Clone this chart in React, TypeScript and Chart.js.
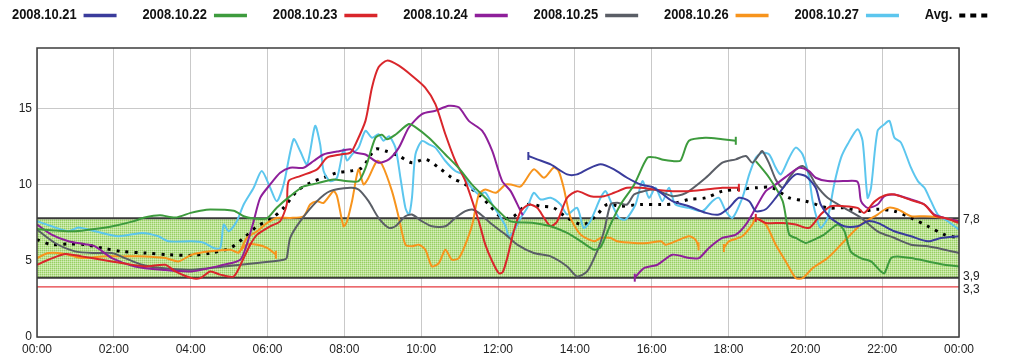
import { useEffect, useRef } from 'react';
import { Chart, registerables } from 'chart.js';

Chart.register(...registerables);

const SERIES_LABELS = ['2008.10.21', '2008.10.22', '2008.10.23', '2008.10.24', '2008.10.25', '2008.10.26', '2008.10.27'];
const AVG_LABEL = 'Avg.';
const SERIES_COLORS = ['#3a3c9c', '#3d9b3d', '#d9262b', '#8e1f9a', '#5a5e66', '#f7941d', '#5cc6ee'];

const X_TICK_STEP = 2;
const Y_TICKS = [0, 5, 10, 15];
const Y_MAX = 19;
const BAND_LOW = 3.9;
const BAND_HIGH = 7.8;
const LIMIT_LOW = 3.3;
const RIGHT_LABELS = ['7,8', '3,9', '3,3'];
const RIGHT_VALUES = [7.8, 3.9, 3.3];

// 2008.10.21
const H21 = [12.79, 13.02, 13.37, 13.8, 14.06, 14.32, 14.67, 15.02, 15.36, 15.71, 16.06, 16.54, 16.97, 17.41, 17.75, 18.01, 18.27, 18.54, 18.71, 18.97, 19.23, 19.49, 19.75, 20.01, 20.27, 20.4, 20.66, 21.01, 21.36, 21.62, 21.88, 22.32, 22.75, 23.19, 23.53, 24];
const V21 = [11.9, 11.68, 11.35, 10.69, 10.69, 11.02, 11.35, 11.02, 10.47, 10.03, 9.81, 8.93, 8.6, 8.16, 8.05, 8.49, 9.15, 8.93, 8.27, 8.4, 9.15, 10.03, 10.69, 10.58, 9.81, 8.71, 7.83, 7.28, 7.28, 7.61, 7.5, 6.95, 6.62, 6.29, 6.51, 6.62];
const T21 = [12.79];

// 2008.10.22
const H22 = [0, 0.5, 1.0, 1.5, 2.0, 2.5, 2.8, 3.2, 3.6, 4.0, 4.25, 4.51, 5.12, 5.38, 5.6, 5.98, 6.24, 6.59, 6.94, 7.29, 7.72, 8.03, 8.37, 8.55, 8.81, 8.98, 9.11, 9.33, 9.68, 9.85, 10.2, 10.63, 10.98, 11.33, 11.67, 12.02, 12.33, 12.93, 13.37, 13.8, 14.15, 14.5, 14.67, 14.93, 15.19, 15.54, 15.89, 16.1, 16.3, 16.54, 16.75, 16.97, 17.41, 17.84, 18.19, 18.45, 18.71, 19.06, 19.41, 19.58, 19.75, 20.01, 20.14, 20.49, 20.84, 21.01, 21.18, 21.44, 21.71, 21.97, 22.06, 22.23, 22.4, 22.75, 23.19, 23.62, 24];
const V22 = [7.1, 7.0, 6.95, 7.1, 7.3, 7.6, 7.85, 8.0, 7.85, 8.16, 8.3, 8.38, 8.3, 7.94, 7.8, 7.8, 8.5, 9.26, 9.9, 10.1, 10.36, 10.25, 10.25, 11.1, 13.1, 13.3, 13.0, 13.3, 14.0, 13.8, 13.1, 12.0, 11.1, 10.0, 9.15, 8.27, 7.6, 7.5, 7.28, 6.84, 6.3, 5.74, 5.9, 7.4, 8.71, 10.0, 11.79, 11.8, 11.65, 11.57, 11.6, 12.9, 13.1, 13.0, 12.9, null, 11.57, 10.47, 8.93, 6.73, 6.51, 6.18, 6.3, 6.73, 7.4, 7.0, 5.63, 5.19, 4.97, 4.3, 4.2, 5.19, 5.3, 5.19, 4.97, 4.75, 4.64];
const T22 = [18.19];

// 2008.10.23
const H23 = [0, 0.3, 0.73, 1.16, 1.69, 2.2, 2.82, 3.34, 3.6, 4.03, 4.25, 4.51, 4.77, 5.12, 5.38, 5.55, 5.73, 6.07, 6.33, 6.5, 6.55, 6.85, 7.29, 7.55, 7.9, 8.16, 8.29, 8.55, 8.72, 8.89, 9.11, 9.42, 9.76, 10.1, 10.37, 10.63, 10.89, 11.15, 11.5, 11.67, 11.85, 12.02, 12.12, 12.24, 12.41, 12.59, 12.81, 13.02, 13.2, 13.37, 13.54, 13.8, 14.06, 14.41, 14.76, 15.02, 15.36, 15.71, 16.06, 16.54, 16.97, 17.41, 17.84, 18.27, 18.5, 18.71, 18.97, 19.41, 19.75, 20.1, 20.4, 20.66, 21.01, 21.36, 21.53, 21.8, 22.06, 22.32, 22.75, 23.1, 23.36, 23.62, 24];
const V23 = [4.75, 5.08, 5.46, 5.3, 5.08, 4.86, 4.64, 4.75, 4.31, 3.87, 3.87, 4.31, 4.1, 3.98, 5.19, 6.07, 6.73, 7.28, 7.61, 8.71, 10.25, 10.58, 11.02, 11.79, 12.0, 12.12, 12.67, 14.21, 16.41, 17.73, 18.17, 17.84, 17.18, 16.41, 15.31, 13.33, 11.57, 10.25, 7.61, 6.07, 4.97, 4.2, 4.25, 5.19, 6.95, 8.27, 8.71, 8.49, 7.83, 7.28, 7.6, 9.15, 9.59, 9.26, 9.26, 9.48, 9.81, 9.81, 9.7, 9.59, 9.59, 9.7, 9.81, 9.81, null, 7.83, 7.5, 7.5, 7.39, 7.17, 8.05, 8.6, 8.6, 8.49, 8.16, 8.9, 9.3, 9.37, 9.0, 8.7, 8.0, 7.83, 7.5];
const T23 = [18.27, 18.71];

// 2008.10.24
const H24 = [0, 0.38, 0.82, 1.25, 1.51, 1.95, 2.55, 3.25, 4.03, 4.86, 5.29, 5.46, 5.64, 5.81, 6.07, 6.33, 6.59, 6.94, 7.2, 7.46, 7.81, 8.16, 8.29, 8.55, 8.89, 9.16, 9.42, 9.68, 10.02, 10.37, 10.72, 10.98, 11.24, 11.59, 11.85, 12.11, 12.33, 12.59, 12.65, 14.0, 15.56, 15.8, 16.15, 16.54, 16.97, 17.23, 17.49, 17.84, 18.19, 18.45, 18.71, 18.97, 19.23, 19.58, 19.84, 20.1, 20.27, 20.58, 21.01, 21.36, 21.45, 21.62, 21.88, 22.06, 22.32, 22.75, 23.1, 23.36, 23.62, 24];
const V24 = [7.39, 6.73, 6.29, 6.1, 5.96, 5.19, 4.64, 4.42, 4.31, 4.75, 5.08, 6.07, 7.61, 9.15, 10.03, 10.8, 11.13, 11.13, 11.57, 12.0, 12.19, 12.34, 12.12, 12.0, 11.46, 11.68, 12.45, 13.77, 14.65, 14.87, 15.2, 15.1, 14.21, 13.55, 12.23, 10.25, 9.59, 8.27, 8.0, null, 3.9, 4.53, 4.75, 5.41, 5.19, 5.19, 5.85, 6.51, 6.73, 7.39, 8.49, 9.59, 10.03, 10.69, 11.13, 10.9, 10.47, 10.25, 10.25, 10.2, 8.93, 8.49, 8.71, 9.26, 9.37, 9.04, 8.71, 8.05, 7.83, 7.61];
const T24 = [15.56];

// 2008.10.25
const H25 = [0, 0.47, 0.99, 1.51, 1.95, 2.29, 2.73, 3.25, 4.03, 4.86, 5.73, 6.42, 6.5, 6.59, 6.85, 7.29, 7.63, 8.16, 8.37, 8.63, 8.89, 9.16, 9.33, 9.59, 9.76, 10.02, 10.28, 10.63, 10.89, 11.15, 11.33, 11.5, 11.85, 12.2, 12.5, 12.93, 13.37, 13.8, 14.06, 14.32, 14.58, 14.76, 14.93, 15.1, 15.36, 15.54, 15.8, 16.06, 16.54, 16.8, 16.97, 17.41, 17.84, 18.19, 18.45, 18.62, 18.8, 18.88, 19.06, 19.23, 19.41, 19.58, 19.75, 19.93, 20.1, 20.27, 20.58, 21.01, 21.45, 21.88, 22.32, 22.75, 23.19, 23.62, 24];
const V25 = [7.06, 6.18, 5.63, 5.52, 5.52, 5.19, 4.75, 4.53, 4.42, 4.64, 4.86, 5.08, 5.19, 6.51, 7.6, 8.93, 9.59, 9.81, 9.7, 8.93, 7.83, 7.17, 7.28, 7.94, 8.05, 7.61, 7.28, 7.28, 7.83, 8.27, 8.38, 8.16, 7.39, 6.73, 6.07, 5.52, 5.3, 4.64, 3.98, 4.31, 5.63, 6.95, 8.71, 8.82, 8.71, 9.37, 9.59, 9.7, 9.26, 9.37, 9.59, 10.47, 11.46, 11.68, 11.9, 11.46, 12.0, 12.23, 11.4, 10.36, 9.81, 10.47, 11.0, 11.24, 10.8, 10.03, 9.15, 8.49, 7.83, 6.95, 6.51, 6.07, 5.96, 5.74, 5.52];

// 2008.10.26 (main run)
const H26 = [0, 0.3, 0.73, 1.16, 1.69, 2.2, 2.82, 3.34, 3.68, 4.03, 4.51, 5.03, 5.25, 5.46, 5.73, 5.99, 6.24, 6.59, 6.94, 7.11, 7.29, 7.46, 7.72, 7.81, 7.98, 8.07, 8.2, 8.37, 8.5, 8.63, 8.85, 8.98, 9.24, 9.42, 9.59, 9.76, 9.94, 10.11, 10.28, 10.46, 10.63, 10.8, 10.98, 11.15, 11.33, 11.5, 11.67, 11.94, 12.2, 12.33, 12.59, 12.93, 13.2, 13.45, 13.58, 13.71, 13.89, 14.15, 14.5, 14.67, 14.93, 15.1, 15.54, 15.89, 16.24, 16.36, 16.62, 16.97, 17.14, 17.22, 17.5, 17.88, 18.01, 18.36, 18.62, 18.71, 18.97, 19.23, 19.49, 19.75, 19.93, 20.19, 20.58, 21.01, 21.45, 21.88, 22.15, 22.4, 22.75, 23.1, 23.62, 24];
const V26 = [5.19, 5.52, 5.46, 5.19, 5.3, 5.3, 5.3, 5.19, 4.97, 5.41, 5.63, 5.74, 5.55, 6.51, 6.95, 7.5, 7.83, 7.83, 7.94, 8.71, 8.93, 8.82, 9.59, 9.26, 7.28, 7.61, 8.93, 11.02, 10.03, 10.47, 11.57, 11.35, 9.59, 7.83, 6.07, 5.96, 6.07, 5.74, 4.64, 4.86, 5.74, 5.08, 5.19, 6.07, 7.39, 9.37, 9.7, 9.48, 10.03, 10.03, 9.9, 11.02, 10.47, 11.13, 10.9, 9.81, 7.83, 6.73, 6.29, 6.51, 6.51, 6.29, 6.18, 6.18, 6.29, 6.07, 6.29, 6.62, 6.4, 5.96, null, 5.85, 6.29, 6.62, 7.39, 7.83, 7.4, 6.07, 4.97, 3.87, 3.87, 4.53, 5.19, 6.29, 7.39, 8.05, 8.49, 8.4, 7.94, 7.94, 7.83, 7.61];
const T26 = [17.22, 17.88];
// 2008.10.26 (repeated hour run)
const H26B = [5.25, 5.46, 5.73, 6.0, 6.22];
const V26B = [5.55, 6.07, 6.07, 5.85, 5.41];
const T26B = [6.22];

// 2008.10.27
const H27 = [0, 0.38, 0.82, 1.08, 1.51, 2.12, 2.73, 3.16, 3.42, 4.03, 4.34, 4.6, 4.77, 4.86, 4.99, 5.2, 5.38, 5.64, 5.85, 6.07, 6.24, 6.42, 6.68, 6.85, 7.03, 7.24, 7.37, 7.46, 7.63, 7.81, 7.98, 8.07, 8.2, 8.37, 8.55, 8.72, 8.89, 9.02, 9.16, 9.33, 9.46, 9.59, 9.68, 9.76, 9.85, 10.02, 10.2, 10.37, 10.63, 10.89, 11.07, 11.24, 11.5, 11.67, 11.85, 12.02, 12.2, 12.28, 12.41, 12.59, 12.76, 12.93, 13.11, 13.37, 13.63, 13.8, 14.06, 14.23, 14.4, 14.67, 14.8, 14.97, 15.15, 15.32, 15.58, 15.76, 15.93, 16.1, 16.28, 16.45, 16.62, 16.97, 17.32, 17.58, 17.75, 17.93, 18.1, 18.36, 18.54, 18.71, 18.88, 19.06, 19.23, 19.36, 19.58, 19.75, 19.93, 20.1, 20.19, 20.32, 20.4, 20.58, 20.75, 20.93, 21.1, 21.36, 21.49, 21.62, 21.71, 21.88, 22.06, 22.19, 22.32, 22.49, 22.75, 22.93, 23.1, 23.27, 23.45, 23.71, 24];
const V27 = [7.61, 7.28, 6.95, 7.2, 6.95, 6.62, 6.84, 6.62, 6.29, 6.29, 6.2, 5.85, 5.85, 7.39, 6.95, 7.61, 8.71, 9.81, 10.91, 9.81, 8.93, 10.03, 13.0, 12.23, 11.35, 13.88, 12.67, 10.91, 10.25, 10.47, 12.34, 11.6, 12.0, 12.45, 13.55, 13.1, 13.33, 12.9, 13.2, 12.45, 10.47, 8.49, 8.05, 9.15, 12.0, 12.89, 12.67, 12.45, 11.57, 10.91, 10.7, 10.03, 9.37, 9.5, 8.71, 8.05, 7.28, 6.62, 6.95, 7.83, 8.49, 9.48, 9.04, 9.15, 8.71, 8.05, 8.49, 7.17, 7.6, 9.15, 9.59, 8.71, 7.83, 7.72, 8.71, 10.25, 9.15, 9.81, 8.93, 9.81, 8.71, 8.49, 8.27, 8.93, 9.15, 8.27, 7.83, 9.15, 10.69, 11.79, 12.12, 12.0, 11.13, 10.69, 11.79, 12.45, 12.0, 10.47, 8.93, 7.61, 7.17, 7.83, 10.03, 11.79, 12.67, 13.66, 12.89, 9.15, 9.81, 13.55, 13.99, 14.21, 13.1, 12.78, 11.13, 10.25, 9.81, 8.93, 8.05, 7.61, 7.06];

// Avg.
const HAVG = [0, 0.38, 0.82, 1.25, 1.69, 2.2, 2.82, 3.42, 4.03, 4.51, 5.03, 5.38, 5.73, 6.07, 6.42, 6.77, 7.11, 7.46, 7.81, 8.16, 8.46, 8.81, 9.07, 9.42, 9.76, 10.11, 10.46, 10.8, 11.15, 11.5, 11.76, 12.11, 12.41, 12.76, 13.11, 13.45, 13.8, 14.23, 14.58, 14.84, 15.19, 15.71, 16.24, 16.54, 16.97, 17.41, 17.84, 18.27, 18.71, 19.14, 19.58, 20.01, 20.58, 21.01, 21.45, 21.88, 22.32, 22.75, 23.19, 23.62, 24];
const VAVG = [6.4, 6.07, 6.12, 6.07, 5.85, 5.63, 5.52, 5.41, 5.37, 5.52, 5.85, 6.51, 7.28, 7.72, 8.49, 9.59, 10.14, 10.47, 10.8, 10.91, 11.13, 12.34, 12.23, 11.9, 11.46, 11.68, 11.13, 10.47, 10.03, 9.37, 8.71, 7.83, 7.94, 8.71, 8.6, 8.49, 7.83, 7.39, 8.05, 8.71, 8.6, 8.71, 8.71, 8.75, 9.04, 9.15, 9.59, 9.7, 9.81, 9.81, 9.15, 8.93, 8.49, 8.49, 8.27, 8.4, 8.27, 7.83, 7.28, 6.73, 6.51];

const FONT = '"Liberation Sans", Arial, sans-serif';

function points(h: number[], v: (number | null)[]) {
  return h.map((x, i) => ({ x, y: v[i] }));
}

function lineSet(h: number[], v: (number | null)[], color: string, ticks: number[], label: string) {
  return {
    label,
    data: points(h, v),
    borderColor: color,
    backgroundColor: color,
    borderWidth: 2,
    tension: 0.25,
    spanGaps: false,
    pointStyle: 'line' as const,
    rotation: 90,
    pointBorderWidth: 2,
    pointBorderColor: color,
    pointRadius: h.map((x) => (ticks.includes(x) ? 4 : 0)),
    pointHoverRadius: 0,
  };
}

function makePattern(): CanvasPattern | string {
  const c = document.createElement('canvas');
  c.width = 2;
  c.height = 2;
  const g = c.getContext('2d');
  if (!g) return '#c4e49c';
  g.fillStyle = '#d6eebb';
  g.fillRect(0, 0, 2, 2);
  g.fillStyle = '#98cf62';
  g.fillRect(0, 0, 1, 1);
  g.fillStyle = '#bce296';
  g.fillRect(1, 0, 1, 1);
  g.fillRect(0, 1, 1, 1);
  const p = g.createPattern(c, 'repeat');
  return p || '#c4e49c';
}

export default function App() {
  const ref = useRef<HTMLCanvasElement | null>(null);

  useEffect(() => {
    document.body.style.margin = '0';
    const canvas = ref.current;
    if (!canvas) return;
    const pattern = makePattern();

    const bandPlugin = {
      id: 'band',
      beforeDatasetsDraw(chart: any) {
        const { ctx, chartArea, scales } = chart;
        const y = scales.y;
        const yTop = y.getPixelForValue(BAND_HIGH);
        const yBot = y.getPixelForValue(BAND_LOW);
        const yLim = y.getPixelForValue(LIMIT_LOW);
        ctx.save();
        ctx.fillStyle = pattern;
        ctx.fillRect(chartArea.left, yTop, chartArea.right - chartArea.left, yBot - yTop);
        ctx.strokeStyle = '#3a3a3a';
        ctx.lineWidth = 2;
        ctx.beginPath();
        ctx.moveTo(chartArea.left, yTop);
        ctx.lineTo(chartArea.right, yTop);
        ctx.moveTo(chartArea.left, yBot);
        ctx.lineTo(chartArea.right, yBot);
        ctx.stroke();
        ctx.strokeStyle = '#e5383e';
        ctx.lineWidth = 1.3;
        ctx.beginPath();
        ctx.moveTo(chartArea.left, yLim);
        ctx.lineTo(chartArea.right, yLim);
        ctx.stroke();
        ctx.restore();
      },
    };

    const decorPlugin = {
      id: 'decor',
      afterDraw(chart: any) {
        const { ctx, chartArea, scales } = chart;
        const y = scales.y;
        ctx.save();
        // frame
        ctx.strokeStyle = '#3c3c3c';
        ctx.lineWidth = 1.5;
        ctx.strokeRect(chartArea.left, chartArea.top, chartArea.right - chartArea.left, chartArea.bottom - chartArea.top);
        // right labels
        ctx.fillStyle = '#222';
        ctx.font = '12px ' + FONT;
        ctx.textAlign = 'left';
        ctx.textBaseline = 'middle';
        RIGHT_LABELS.forEach((t, i) => {
          const off = i === 1 ? -1 : i === 2 ? 3 : 1;
          ctx.fillText(t, chartArea.right + 4, y.getPixelForValue(RIGHT_VALUES[i]) + off);
        });
        // legend
        const labels = [...SERIES_LABELS, AVG_LABEL];
        const step = 130.4;
        labels.forEach((t, i) => {
          const x0 = 12 + i * step;
          ctx.save();
          ctx.translate(x0, 19);
          ctx.scale(0.86, 1);
          ctx.fillStyle = '#111';
          ctx.font = 'bold 15px ' + FONT;
          ctx.textAlign = 'left';
          ctx.textBaseline = 'alphabetic';
          ctx.fillText(t, 0, 0);
          const w = ctx.measureText(t).width * 0.86;
          ctx.restore();
          const lx = x0 + w + 7;
          ctx.beginPath();
          if (i < SERIES_LABELS.length) {
            ctx.strokeStyle = SERIES_COLORS[i];
            ctx.lineWidth = 3.5;
            ctx.setLineDash([]);
          } else {
            ctx.strokeStyle = '#000';
            ctx.lineWidth = 4;
            ctx.setLineDash([6, 5]);
          }
          ctx.moveTo(lx, 15.5);
          ctx.lineTo(lx + 33, 15.5);
          ctx.stroke();
          ctx.setLineDash([]);
        });
        ctx.restore();
      },
    };

    const datasets: any[] = [
      lineSet(H21, V21, SERIES_COLORS[0], T21, SERIES_LABELS[0]),
      lineSet(H22, V22, SERIES_COLORS[1], T22, SERIES_LABELS[1]),
      lineSet(H23, V23, SERIES_COLORS[2], T23, SERIES_LABELS[2]),
      lineSet(H24, V24, SERIES_COLORS[3], T24, SERIES_LABELS[3]),
      lineSet(H25, V25, SERIES_COLORS[4], [], SERIES_LABELS[4]),
      lineSet(H26, V26, SERIES_COLORS[5], T26, SERIES_LABELS[5]),
      lineSet(H26B, V26B, SERIES_COLORS[5], T26B, SERIES_LABELS[5]),
      lineSet(H27, V27, SERIES_COLORS[6], [], SERIES_LABELS[6]),
      {
        label: AVG_LABEL,
        data: points(HAVG, VAVG),
        borderColor: '#000',
        borderWidth: 3,
        borderDash: [3, 6],
        borderCapStyle: 'butt',
        tension: 0.3,
        pointRadius: 0,
      },
    ];

    const chart = new Chart(canvas, {
      type: 'line',
      data: { datasets },
      options: {
        animation: false,
        responsive: true,
        maintainAspectRatio: false,
        layout: { padding: { top: 48, right: 65, left: 0, bottom: 0 } },
        plugins: { legend: { display: false }, tooltip: { enabled: false } },
        events: [],
        scales: {
          x: {
            type: 'linear',
            min: 0,
            max: 24,
            afterFit: (s: any) => {
              s.height = 27;
            },
            border: { display: false },
            grid: { color: '#c9c9c9', lineWidth: 1, drawTicks: false },
            ticks: {
              stepSize: X_TICK_STEP,
              autoSkip: false,
              maxRotation: 0,
              padding: 5,
              color: '#222',
              font: { family: FONT, size: 12 },
              callback: (v: any) => String(Number(v) % 24).padStart(2, '0') + ':00',
            },
          },
          y: {
            type: 'linear',
            min: 0,
            max: Y_MAX,
            afterFit: (s: any) => {
              s.width = 37;
            },
            afterBuildTicks: (s: any) => {
              s.ticks = Y_TICKS.map((v) => ({ value: v }));
            },
            border: { display: false },
            grid: { color: '#c9c9c9', lineWidth: 1, drawTicks: false },
            ticks: {
              padding: 5,
              color: '#222',
              font: { family: FONT, size: 12 },
            },
          },
        },
      },
      plugins: [bandPlugin, decorPlugin],
    });
    return () => chart.destroy();
  }, []);

  return (
    <div style={{ width: 1024, height: 364, position: 'relative' }}>
      <canvas ref={ref} />
    </div>
  );
}
